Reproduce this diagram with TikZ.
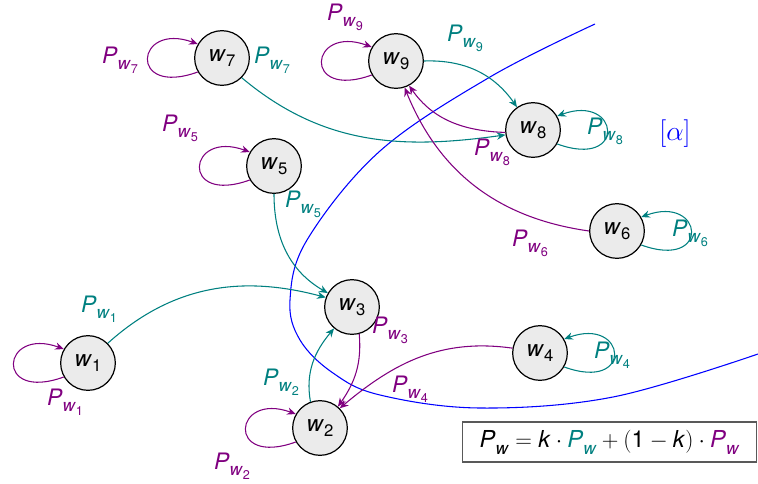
\documentclass[tikz,border=0pt]{standalone}
\usepackage{fontspec}
\setmainfont{TeX Gyre Heros}
\usetikzlibrary{arrows.meta}
\definecolor{tl}{RGB}{0,128,128}
\definecolor{pu}{RGB}{128,0,128}
\newcommand\wn[1]{\textit{w}\raisebox{-0.22em}{\fontsize{12.5}{12.5}\selectfont #1}}
\newcommand\pl[1]{\textit{P}\raisebox{-0.3em}{\fontsize{13}{13}\selectfont\textit{w}\raisebox{-0.2em}{\fontsize{9.5}{9.5}\selectfont #1}}}
\newcommand\pw{\textit{P}\raisebox{-0.3em}{\fontsize{13}{13}\selectfont\textit{w}}}
\tikzset{
  x=0.75pt, y=-0.75pt,
  state/.style={circle, draw=black, line width=0.9pt, fill=black!8, minimum size=41pt, inner sep=0pt, font=\fontsize{17}{20}\selectfont},
  lbl/.style={inner sep=0pt, font=\fontsize{17}{20}\selectfont},
  tlbl/.style={lbl, text=tl},
  plbl/.style={lbl, text=pu},
  tedge/.style={draw=tl, line width=0.8pt, -{Stealth[length=6.5pt,width=5.5pt]}},
  pedge/.style={draw=pu, line width=0.8pt, -{Stealth[length=6.5pt,width=5.5pt]}},
  eqbox/.style={draw=black!65, line width=0.8pt, minimum width=221pt, minimum height=30pt, inner sep=0pt, font=\fontsize{17.5}{20}\selectfont},
}
\begin{document}
\begin{tikzpicture}
\useasboundingbox (0,0) rectangle (758,483);
% separating curve
\draw[blue, line width=0.8pt] plot[smooth, tension=0.6] coordinates {(595,24) (490,77) (380,151) (307,240) (290,300) (300,340) (333,373) (380,395) (480,408) (613,397) (758,354)};
% states
\node[state] (w7) at (222,58) {\wn{7}};
\node[state] (w9) at (396,61) {\wn{9}};
\node[state] (w8) at (533,130) {\wn{8}};
\node[state] (w5) at (274,166) {\wn{5}};
\node[state] (w6) at (617,231) {\wn{6}};
\node[state] (w3) at (352,307) {\wn{3}};
\node[state] (w1) at (88,363) {\wn{1}};
\node[state] (w4) at (540,353) {\wn{4}};
\node[state] (w2) at (320,428) {\wn{2}};
% self loops (purple, left)
\foreach \n in {w7,w9,w5,w1,w2}{
  \draw[pedge] (\n.210) .. controls +(200:56pt) and +(160:50pt) .. (\n.150);
}
% self loops (teal, right)
\foreach \n in {w8,w6,w4}{
  \draw[tedge] (\n.-30) .. controls +(-20:56pt) and +(20:50pt) .. (\n.30);
}
% edges
\draw[tedge] (w7.-45) to[out=-40, in=188] (w8.190);
\draw[tedge] (w9.0) to[out=2, in=125] (w8.125);
\draw[pedge] (w8.185) to[out=178, in=-55] (w9.-62);
\draw[pedge] (w6.180) to[out=172, in=-68] (w9.-72);
\draw[tedge] (w5.-90) to[out=-90, in=150] (w3.150);
\draw[tedge] (w1.45) to[out=42, in=165] (w3.160);
\draw[tedge] (w2.110) to[out=100, in=-130] (w3.-130);
\draw[pedge] (w3.-75) to[out=-85, in=55] (w2.50);
\draw[pedge] (w4.170) to[out=172, in=40] (w2.45);
% labels
\node[plbl] (l7a) at (120,60) {\pl{7}};
\node[tlbl] (l7b) at (272,60) {\pl{7}};
\node[plbl] (l9a) at (345,17) {\pl{9}};
\node[tlbl] (l9b) at (465,38) {\pl{9}};
\node[plbl] (l5a) at (180,128) {\pl{5}};
\node[tlbl] (l5b) at (303,204) {\pl{5}};
\node[tlbl] (l8a) at (605,131) {\pl{8}};
\node[plbl] (l8b) at (492,152) {\pl{8}};
\node[plbl] (l6a) at (530,243) {\pl{6}};
\node[tlbl] (l6b) at (690,233) {\pl{6}};
\node[plbl] (l3a) at (390,330) {\pl{3}};
\node[tlbl] (l4a) at (612,355) {\pl{4}};
\node[plbl] (l4b) at (410,389) {\pl{4}};
\node[tlbl] (l1a) at (99,309) {\pl{1}};
\node[plbl] (l1b) at (65,402) {\pl{1}};
\node[tlbl] (l2a) at (281,382) {\pl{2}};
\node[plbl] (l2b) at (232,466) {\pl{2}};
\node[lbl, text=blue, font=\fontsize{21}{24}\selectfont] (alpha) at (675,134) {$[\alpha]$};
% equation box
\node[eqbox] (eq) at (609.5,442) {$\mbox{\pw}=\mbox{\textit{k}}\cdot\mbox{\color{tl}\pw}+(\mbox{1}-\mbox{\textit{k}})\cdot\mbox{\color{pu}\pw}$};
\end{tikzpicture}
\end{document}
